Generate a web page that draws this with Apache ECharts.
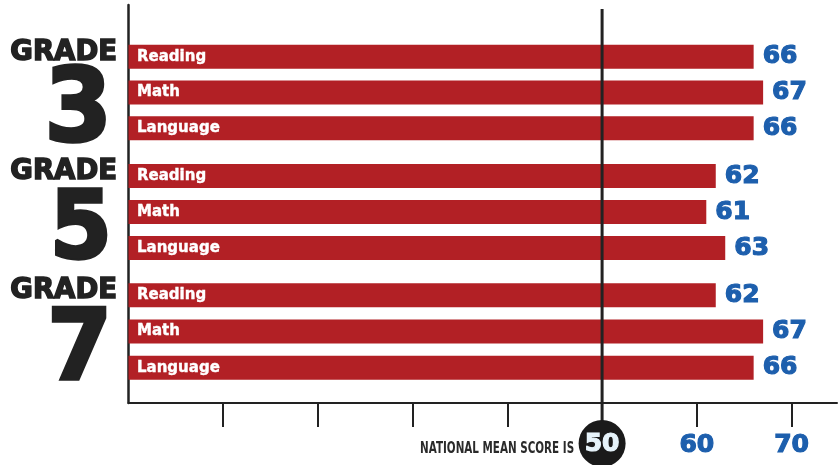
<!DOCTYPE html>
<html><head><meta charset="utf-8">
<script src="https://cdn.jsdelivr.net/npm/echarts@6/dist/echarts.min.js"></script>
<style>html,body{margin:0;padding:0;background:#fff}#c{width:839px;height:465px}</style>
</head><body><div id="c"></div>
<script>
const subjects = ['Reading', 'Math', 'Language'];
const grades = ['3', '5', '7'];
const grade3 = [66, 67, 66];
const grade5 = [62, 61, 63];
const grade7 = [62, 67, 66];
const tickValues = [10, 20, 30, 40, 50, 60, 70];
const axisLabels = [60, 70];
const nationalMean = 50;
const meanText = 'NATIONAL MEAN SCORE IS';

const RED = '#b22025', BLUE = '#1d5fad', INK = '#222';
const NUMFONT = 'DejaVu Sans';
const chart = echarts.init(document.getElementById('c'), null, {renderer: 'canvas'});

const gridBoxes = [{top: 39, height: 107}, {top: 158, height: 108}, {top: 277, height: 109}];
const digitSizes = [102, 94, 98];
const gradeData = [grade3, grade5, grade7];
const L = 128.5, R = 2, XMAX = 74.8;

const grids = [], xAxes = [], yAxes = [], series = [];
gridBoxes.forEach((b, i) => {
  grids.push({left: L, right: R, top: b.top, height: b.height});
  xAxes.push({gridIndex: i, type: 'value', min: 0, max: XMAX, show: false});
  yAxes.push({gridIndex: i, type: 'category', data: subjects, inverse: true, show: false});
  series.push({
    type: 'bar', xAxisIndex: i, yAxisIndex: i, data: gradeData[i], barWidth: 24,
    itemStyle: {color: RED}, silent: true,
    label: {show: true, position: 'insideLeft', distance: 8.5, formatter: p => p.name,
      color: '#fff', fontFamily: NUMFONT, fontWeight: 'bold', fontSize: 15,
      textBorderColor: '#fff', textBorderWidth: 0.4}
  });
  series.push({
    type: 'bar', xAxisIndex: i, yAxisIndex: i, data: gradeData[i], barWidth: 24, barGap: '-100%',
    itemStyle: {color: 'rgba(0,0,0,0)'}, silent: true, z: 3,
    label: {show: true, position: 'right', distance: 9, formatter: p => String(p.value),
      color: BLUE, fontFamily: NUMFONT, fontWeight: 'bold', fontSize: 25,
      textBorderColor: BLUE, textBorderWidth: 1.2}
  });
});
// axis frame grid
grids.push({left: L, right: R, top: 5, height: 398});
xAxes.push({gridIndex: 3, type: 'value', min: 0, max: XMAX, interval: 10,
  axisLine: {show: true, lineStyle: {color: INK, width: 2}},
  axisTick: {show: true, customValues: tickValues, length: 24, lineStyle: {color: INK, width: 2}},
  axisLabel: {show: true, customValues: axisLabels, margin: 30, color: BLUE,
    fontFamily: NUMFONT, fontWeight: 'bold', fontSize: 25, textBorderColor: BLUE, textBorderWidth: 1.2},
  splitLine: {show: false}});
yAxes.push({gridIndex: 3, type: 'value', min: 0, max: 1,
  axisLine: {show: true, lineStyle: {color: INK, width: 2.5}},
  axisTick: {show: false}, axisLabel: {show: false}, splitLine: {show: false}});
series.push({type: 'line', xAxisIndex: 3, yAxisIndex: 3, data: [], silent: true});

chart.setOption({animation: false, grid: grids, xAxis: xAxes, yAxis: yAxes, series: series});

// decorations derived from the axes
const mx = chart.convertToPixel({xAxisIndex: 3}, nationalMean);
const axisY = chart.convertToPixel({yAxisIndex: 3}, 0);
const g = [];
g.push({type: 'line', shape: {x1: mx, y1: 9, x2: mx, y2: axisY + 25}, style: {stroke: INK, lineWidth: 3}, z: 50});
g.push({type: 'circle', shape: {cx: mx, cy: axisY + 40.5, r: 23.5}, style: {fill: '#1a1a1a'}, z: 51});
g.push({type: 'text', x: mx, y: axisY + 41, z: 52, style: {text: String(nationalMean), fill: '#e6f3fa',
  font: 'bold 25px "DejaVu Sans"', align: 'center', verticalAlign: 'middle',
  stroke: '#e6f3fa', lineWidth: 1.2}});
g.push({type: 'text', x: mx - 28, y: axisY + 46, z: 52, scaleX: 0.72, style: {text: meanText, fill: '#2a2a2a',
  font: 'bold 16px "Liberation Sans Narrow", "DejaVu Sans Condensed", sans-serif', align: 'right', verticalAlign: 'middle'}});
grades.forEach((gr, i) => {
  const cy = chart.convertToPixel({yAxisIndex: i}, subjects[0]);
  g.push({type: 'text', x: 117, y: cy - 4, z: 50, style: {text: 'GRADE', fill: INK,
    font: 'bold 27.5px "DejaVu Sans"', align: 'right', verticalAlign: 'middle', stroke: INK, lineWidth: 1.5}});
  g.push({type: 'text', x: 112, y: cy + 58, z: 50, scaleX: 0.95, style: {text: gr, fill: INK,
    font: 'bold ' + digitSizes[i] + 'px "DejaVu Sans"', align: 'right', verticalAlign: 'middle', stroke: INK, lineWidth: 3.5}});
});
chart.setOption({graphic: g});
</script></body></html>
